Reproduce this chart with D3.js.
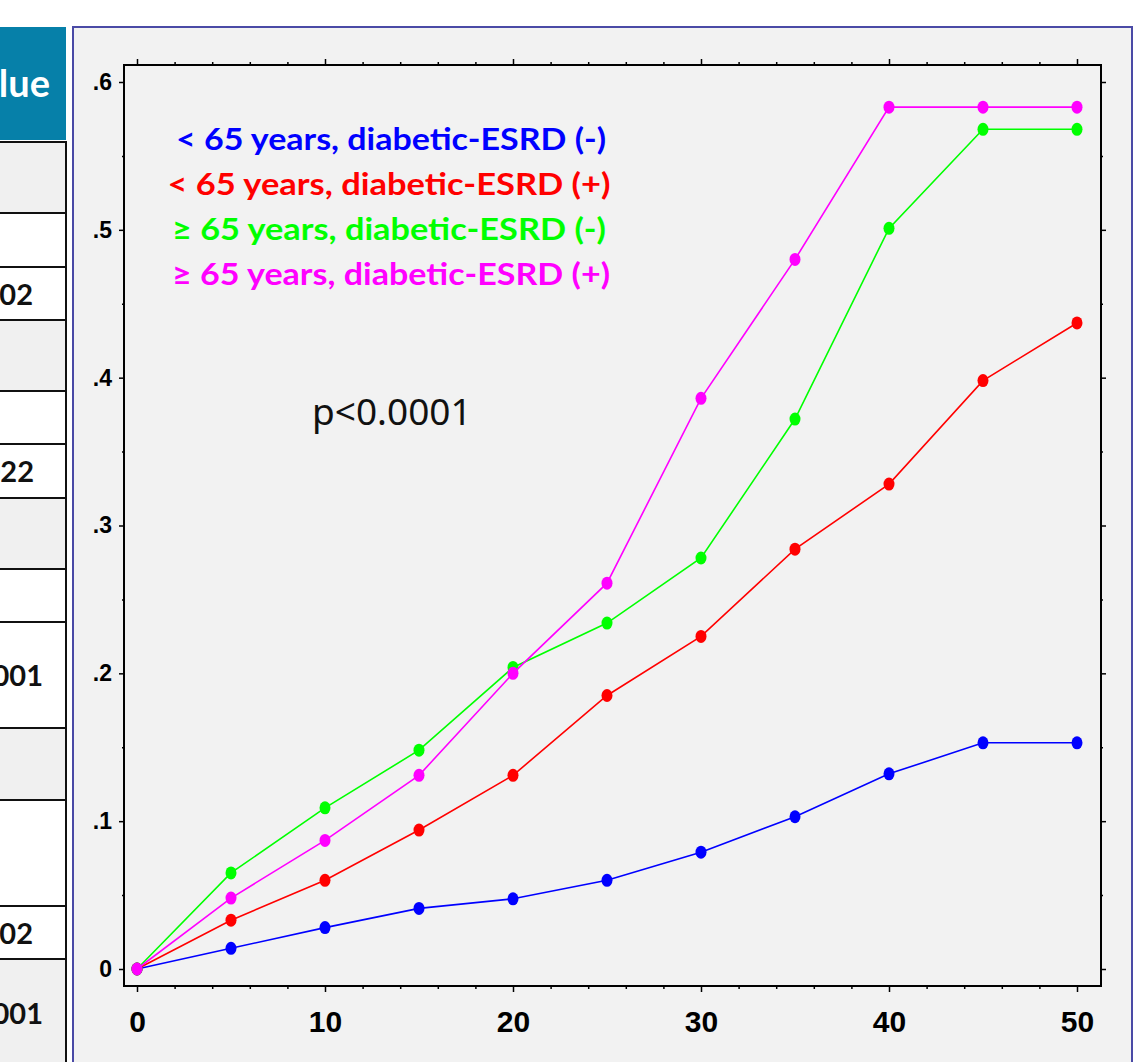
<!DOCTYPE html>
<html>
<head>
<meta charset="utf-8">
<script src="https://cdn.jsdelivr.net/npm/d3@7"></script>
<style>
  body { margin: 0; background: #ffffff; }
  .tick line { stroke: #000; }
</style>
</head>
<body>
<div id="chart-area"></div>
<script>
/*
*    cumulative incidence chart
*/
// data
var times = [0, 5, 10, 15, 20, 25, 30, 35, 40, 45, 50];
var seriesNames = [
    "< 65 years, diabetic-ESRD (-)",
    "< 65 years, diabetic-ESRD (+)",
    "\u2265 65 years, diabetic-ESRD (-)",
    "\u2265 65 years, diabetic-ESRD (+)"
];
var youngNoDm = [0, 0.014, 0.028, 0.041, 0.0475, 0.060, 0.079, 0.103, 0.132, 0.153, 0.153];
var youngDm   = [0, 0.033, 0.060, 0.094, 0.131, 0.185, 0.225, 0.284, 0.328, 0.398, 0.437];
var oldNoDm   = [0, 0.065, 0.109, 0.148, 0.204, 0.234, 0.278, 0.372, 0.501, 0.568, 0.568];
var oldDm     = [0, 0.048, 0.087, 0.131, 0.200, 0.261, 0.386, 0.480, 0.583, 0.583, 0.583];
var seriesValues = [youngNoDm, youngDm, oldNoDm, oldDm];
var seriesColors = ["#0000ff", "#ff0000", "#00ff00", "#ff00ff"];

var xMajor = [0, 10, 20, 30, 40, 50];
var xMinor = [2, 4, 6, 8, 12, 14, 16, 18, 22, 24, 26, 28, 32, 34, 36, 38, 42, 44, 46, 48];
var yMajor = [0, 0.1, 0.2, 0.3, 0.4, 0.5, 0.6];
var yMinor = [0.05, 0.15, 0.25, 0.35, 0.45, 0.55];
var yLabels = ["0", ".1", ".2", ".3", ".4", ".5", ".6"];
var pText = "p<0.0001";

// cut-off table on the left
var tableHeader = "P value";
var tableValues = ["0.002", "0.022", "<0.0001", "0.002", "<0.0001"];

// layout
var width = 1144;
var height = 1062;
var frame = {left: 124, right: 1101, top: 65, bottom: 986};

var svg = d3.select("#chart-area")
    .append("svg")
    .attr("width", width)
    .attr("height", height);

// ---- table fragment ----
var rowEdges = [142, 213, 267, 320, 391, 444, 498, 569, 622, 728, 800, 906, 959, 1066];
var rowGray = [true, false, false, true, false, false, true, false, false, true, false, false, true];
var valueRows = [2, 5, 8, 11, 12];
var valueRight = [33, 34, 43, 33, 43];
var tbl = svg.append("g");

tbl.append("rect")
    .attr("x", -10).attr("y", 27)
    .attr("width", 76).attr("height", 113)
    .attr("fill", "#0680a9");
tbl.append("text")
    .attr("x", 50).attr("y", 97)
    .attr("text-anchor", "end")
    .attr("font-family", "Lato, 'Open Sans', sans-serif")
    .attr("font-weight", "bold")
    .attr("font-size", "38px")
    .attr("fill", "#ffffff")
    .text(tableHeader);

rowGray.forEach(function(g, i) {
    tbl.append("rect")
        .attr("x", -10).attr("y", rowEdges[i])
        .attr("width", 76).attr("height", rowEdges[i + 1] - rowEdges[i])
        .attr("fill", g ? "#f0f0f0" : "#ffffff");
});
rowEdges.slice(0, -1).forEach(function(e) {
    tbl.append("line")
        .attr("x1", -10).attr("x2", 67)
        .attr("y1", e).attr("y2", e)
        .attr("stroke", "#111").attr("stroke-width", 2);
});
tbl.append("line")
    .attr("x1", 66).attr("x2", 66)
    .attr("y1", 141).attr("y2", height)
    .attr("stroke", "#111").attr("stroke-width", 2);

tableValues.forEach(function(v, i) {
    var r = valueRows[i];
    tbl.append("text")
        .attr("x", valueRight[i])
        .attr("y", (rowEdges[r] + rowEdges[r + 1]) / 2 + 11)
        .attr("text-anchor", "end")
        .attr("font-family", "Lato, 'Open Sans', sans-serif")
        .attr("font-weight", "bold")
        .attr("font-size", "29px")
        .attr("fill", "#111")
        .text(v);
});

// ---- graph panel ----
svg.append("rect")
    .attr("x", 73).attr("y", 27)
    .attr("width", 1059).attr("height", height)
    .attr("fill", "#f2f2f2")
    .attr("stroke", "#4a4aa6")
    .attr("stroke-width", 2);

var x = d3.scaleLinear().domain([0, 50]).range([137, 1077]);
var y = d3.scaleLinear().domain([0, 0.6]).range([969, 82]);

var g = svg.append("g");

// frame
g.append("rect")
    .attr("x", frame.left).attr("y", frame.top)
    .attr("width", frame.right - frame.left)
    .attr("height", frame.bottom - frame.top)
    .attr("fill", "none")
    .attr("stroke", "#000")
    .attr("stroke-width", 2);

function styleAxis(sel) {
    sel.select(".domain").remove();
    sel.selectAll(".tick line").attr("stroke", "#000").attr("stroke-width", 1.5);
}
var tickFont = "'Liberation Sans', Arial, sans-serif";

// bottom axis
var xAxisGroup = g.append("g")
    .attr("transform", "translate(0, " + frame.bottom + ")")
    .call(d3.axisBottom(x).tickValues(xMajor).tickSize(6).tickPadding(19));
styleAxis(xAxisGroup);
xAxisGroup.selectAll("text")
    .style("font-family", tickFont)
    .style("font-weight", "bold")
    .style("font-size", "30px")
    .attr("fill", "#000");
var xMinorGroup = g.append("g")
    .attr("transform", "translate(0, " + frame.bottom + ")")
    .call(d3.axisBottom(x).tickValues(xMinor).tickSize(3).tickFormat(""));
styleAxis(xMinorGroup);

// top axis
var xTopGroup = g.append("g")
    .attr("transform", "translate(0, " + frame.top + ")")
    .call(d3.axisTop(x).tickValues(xMajor).tickSize(6).tickFormat(""));
styleAxis(xTopGroup);
var xTopMinor = g.append("g")
    .attr("transform", "translate(0, " + frame.top + ")")
    .call(d3.axisTop(x).tickValues(xMinor).tickSize(3).tickFormat(""));
styleAxis(xTopMinor);

// left axis
var yAxisGroup = g.append("g")
    .attr("transform", "translate(" + frame.left + ", 0)")
    .call(d3.axisLeft(y).tickValues(yMajor).tickSize(5).tickPadding(7)
        .tickFormat(function(d, i) { return yLabels[i]; }));
styleAxis(yAxisGroup);
yAxisGroup.selectAll("text")
    .style("font-family", tickFont)
    .style("font-weight", "bold")
    .style("font-size", "23px")
    .attr("fill", "#000");
var yMinorGroup = g.append("g")
    .attr("transform", "translate(" + frame.left + ", 0)")
    .call(d3.axisLeft(y).tickValues(yMinor).tickSize(2).tickFormat(""));
styleAxis(yMinorGroup);

// right axis
var yRightGroup = g.append("g")
    .attr("transform", "translate(" + frame.right + ", 0)")
    .call(d3.axisRight(y).tickValues(yMajor).tickSize(5).tickFormat(""));
styleAxis(yRightGroup);
var yRightMinor = g.append("g")
    .attr("transform", "translate(" + frame.right + ", 0)")
    .call(d3.axisRight(y).tickValues(yMinor).tickSize(2).tickFormat(""));
styleAxis(yRightMinor);

// lines + markers
var line = d3.line()
    .x(function(d) { return x(d.t); })
    .y(function(d) { return y(d.v); });

seriesValues.forEach(function(vals, i) {
    var pts = times.map(function(t, j) { return {t: t, v: vals[j]}; });
    g.append("path")
        .datum(pts)
        .attr("d", line)
        .attr("fill", "none")
        .attr("stroke", seriesColors[i])
        .attr("stroke-width", 1.6);
    g.selectAll(".pt" + i)
        .data(pts)
        .enter().append("ellipse")
        .attr("class", "pt" + i)
        .attr("cx", function(d) { return x(d.t); })
        .attr("cy", function(d) { return y(d.v); })
        .attr("rx", 5.5)
        .attr("ry", 6.5)
        .attr("fill", seriesColors[i]);
});

// legend
var legendX = [391, 389, 389, 391];
var legendW = [430, 443, 434, 438];
seriesNames.forEach(function(name, i) {
    g.append("text")
        .attr("x", legendX[i])
        .attr("y", 150 + 45 * i)
        .attr("text-anchor", "middle")
        .attr("font-family", "Lato, 'Open Sans', sans-serif")
        .attr("font-weight", "bold")
        .attr("font-size", "30px")
        .attr("textLength", legendW[i])
        .attr("lengthAdjust", "spacingAndGlyphs")
        .attr("fill", seriesColors[i])
        .text(name);
});

g.append("text")
    .attr("x", 312)
    .attr("y", 425)
    .attr("font-family", "'Noto Sans', 'Open Sans', sans-serif")
    .attr("font-size", "37px")
    .attr("fill", "#111")
    .text(pText);
</script>
</body>
</html>
